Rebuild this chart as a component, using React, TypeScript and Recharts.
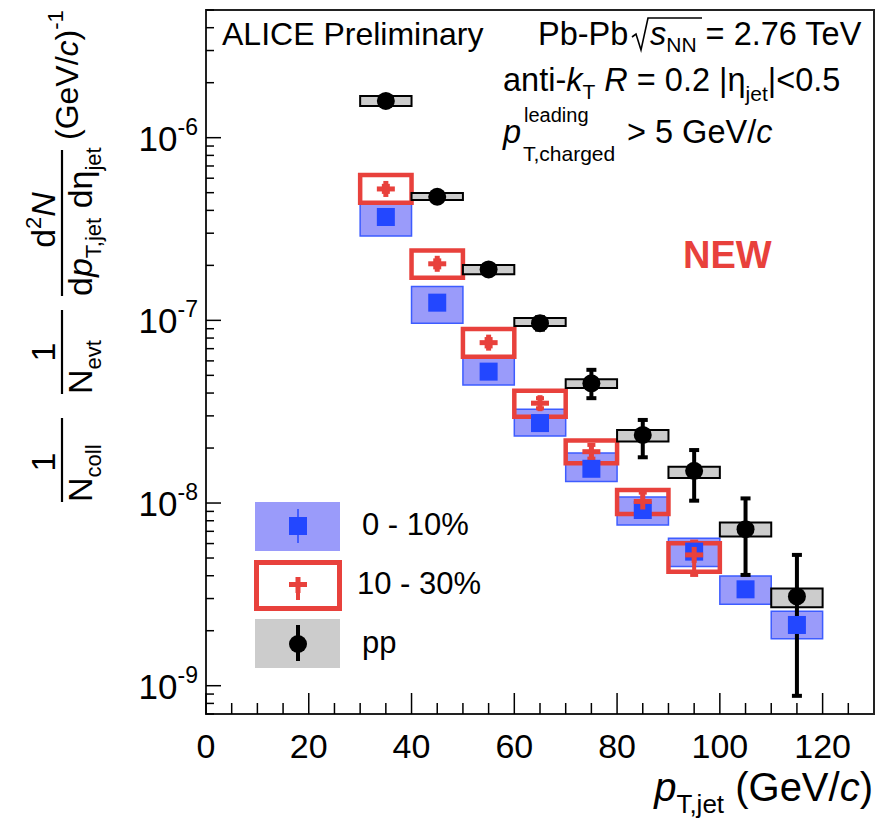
import React from 'react'
import { ComposedChart, Scatter, XAxis, YAxis, ErrorBar, ReferenceArea, Legend } from 'recharts'

const FONT = '"Liberation Sans", Arial, Helvetica, sans-serif'

// jet pT bin centres (GeV/c), each bin 10 GeV/c wide
const ptBins = [35, 45, 55, 65, 75, 85, 95, 105, 115]
const binHalf = 5

// 0-10% central Pb-Pb
const c010Value = [3.68e-7, 1.25e-7, 5.24e-8, 2.74e-8, 1.54e-8, 9.16e-9, 5.42e-9, 3.37e-9, 2.15e-9]
const c010StatLow = [3.58e-7, 1.21e-7, 5.08e-8, 2.65e-8, 1.49e-8, 8.85e-9, 5.22e-9, 3.24e-9, 2.06e-9]
const c010StatHigh = [3.78e-7, 1.29e-7, 5.40e-8, 2.83e-8, 1.59e-8, 9.47e-9, 5.62e-9, 3.50e-9, 2.24e-9]
const c010SysLow = [2.90e-7, 9.65e-8, 4.43e-8, 2.33e-8, 1.31e-8, 7.59e-9, 4.49e-9, 2.79e-9, 1.81e-9]
const c010SysHigh = [4.40e-7, 1.53e-7, 6.32e-8, 3.26e-8, 1.88e-8, 1.08e-8, 6.41e-9, 3.99e-9, 2.56e-9]

// 10-30% Pb-Pb (bins 35..95 only)
const c1030Value = [5.24e-7, 2.04e-7, 7.55e-8, 3.52e-8, 1.91e-8, 1.02e-8, 5.2e-9]
const c1030StatLow = [5.05e-7, 1.95e-7, 7.2e-8, 3.3e-8, 1.75e-8, 9.1e-9, 4.04e-9]
const c1030StatHigh = [5.45e-7, 2.13e-7, 7.9e-8, 3.75e-8, 2.08e-8, 1.14e-8, 6.15e-9]
const c1030SysLow = [4.40e-7, 1.71e-7, 6.32e-8, 2.97e-8, 1.65e-8, 8.72e-9, 4.20e-9]
const c1030SysHigh = [6.25e-7, 2.41e-7, 8.97e-8, 4.12e-8, 2.20e-8, 1.18e-8, 6.02e-9]

// pp reference
const ppValue = [1.59e-6, 4.75e-7, 1.90e-7, 9.65e-8, 4.52e-8, 2.36e-8, 1.50e-8, 7.19e-9, 3.08e-9]
const ppStatLow = [1.56e-6, 4.66e-7, 1.86e-7, 8.9e-8, 3.75e-8, 1.78e-8, 1.03e-8, 4.04e-9, 8.8e-10]
const ppStatHigh = [1.62e-6, 4.84e-7, 1.94e-7, 1.04e-7, 5.36e-8, 2.85e-8, 1.95e-8, 1.06e-8, 5.2e-9]
const ppSysLow = [1.49e-6, 4.56e-7, 1.79e-7, 9.3e-8, 4.26e-8, 2.17e-8, 1.37e-8, 6.55e-9, 2.69e-9]
const ppSysHigh = [1.69e-6, 4.98e-7, 2.01e-7, 1.03e-7, 4.76e-8, 2.51e-8, 1.58e-8, 7.82e-9, 3.41e-9]

const seriesNames = ['0 - 10%', '10 - 30%', 'pp']

const xDomain = [0, 130]
const yDomain = [7e-10, 5e-6]
const xMajor = [0, 20, 40, 60, 80, 100, 120]
const yDecades = [1e-10, 1e-9, 1e-8, 1e-7, 1e-6]

const xTicks: number[] = []
for (let v = 0; v < 130; v += 5) xTicks.push(v)
const yTicks: number[] = []
yDecades.forEach((d) => {
  for (let k = 1; k < 10; k++) {
    const v = d * k
    if (v >= yDomain[0] && v <= yDomain[1]) yTicks.push(v)
  }
})

const BLUE_FILL = '#9a9bfa'
const BLUE_LINE = '#3d5cff'
const BLUE_MARK = '#2347ff'
const RED = '#e8413c'
const GRAY = '#cccccc'

function toPoints(vals: number[], lo: number[], hi: number[]) {
  return vals.map((y, i) => ({ x: ptBins[i], y, err: [y - lo[i], hi[i] - y] }))
}
const c010Data = toPoints(c010Value, c010StatLow, c010StatHigh)
const c1030Data = toPoints(c1030Value, c1030StatLow, c1030StatHigh)
const ppData = toPoints(ppValue, ppStatLow, ppStatHigh)

function XTick({ x, y, payload }: any) {
  const v = payload.value
  const major = xMajor.includes(v)
  return (
    <g>
      <line x1={x} x2={x} y1={y} y2={y - (major ? 21 : 11)} stroke="#000" strokeWidth={1.5} />
      {major && (
        <text x={x} y={y + 44} textAnchor="middle" fontSize={34} fontFamily={FONT} fill="#000">{v}</text>
      )}
    </g>
  )
}

function YTick({ x, y, payload }: any) {
  const v = payload.value
  const lg = Math.log10(v)
  const e = Math.round(lg)
  const major = Math.abs(lg - e) < 1e-6
  return (
    <g>
      <line x1={x} x2={x + (major ? 15 : 8)} y1={y} y2={y} stroke="#000" strokeWidth={1.5} />
      {major && (
        <text x={x - 8} y={y + 13} textAnchor="end" fontSize={35} fontFamily={FONT} fill="#000">
          10<tspan dy={-16} fontSize={23}>{'-' + Math.abs(e)}</tspan>
        </text>
      )}
    </g>
  )
}

const BlueSquare = (p: any) => <rect x={p.cx - 9} y={p.cy - 9} width={18} height={18} fill={BLUE_MARK} />
const RedCross = (p: any) => (
  <g fill={RED}>
    <rect x={p.cx - 9} y={p.cy - 2.5} width={18} height={5} />
    <rect x={p.cx - 2.5} y={p.cy - 8} width={5} height={16} />
  </g>
)
const BlackDot = (p: any) => <circle cx={p.cx} cy={p.cy} r={9} fill="#000" />

function LegendBlock() {
  const rowTop = [501, 560, 619]
  return (
    <div style={{ position: 'absolute', left: 0, top: 0, width: 879, height: 825, fontFamily: FONT }}>
      {seriesNames.map((name, i) => (
        <div key={name}>
          <svg style={{ position: 'absolute', left: 254, top: rowTop[i] }} width={88} height={52}>
            {i === 0 && (
              <g>
                <rect x={1} y={1} width={85} height={49} fill={BLUE_FILL} />
                <line x1={44} x2={44} y1={8} y2={42} stroke={BLUE_MARK} strokeWidth={1.5} />
                <rect x={35} y={16} width={18} height={18} fill={BLUE_MARK} />
              </g>
            )}
            {i === 1 && (
              <g>
                <rect x={2.5} y={2.5} width={83} height={46} fill="none" stroke={RED} strokeWidth={5} />
                <line x1={44} x2={44} y1={18} y2={40} stroke={RED} strokeWidth={4} />
                <rect x={35} y={22} width={18} height={5} fill={RED} />
                <rect x={41.5} y={17} width={5} height={16} fill={RED} />
              </g>
            )}
            {i === 2 && (
              <g>
                <rect x={1} y={0} width={85} height={49} fill={GRAY} />
                <line x1={44} x2={44} y1={6} y2={42} stroke="#000" strokeWidth={4} />
                <circle cx={44} cy={25} r={9} fill="#000" />
              </g>
            )}
          </svg>
          <div
            style={{
              position: 'absolute',
              left: i === 1 ? 357 : 362,
              top: rowTop[i] + 6,
              fontSize: 31,
              lineHeight: '36px',
              color: '#000',
              whiteSpace: 'nowrap',
            }}
          >
            {name}
          </div>
        </div>
      ))}
    </div>
  )
}

function Annotations() {
  const sub = 21
  const ysub = 22
  return (
    <svg
      width={879}
      height={825}
      style={{ position: 'absolute', left: 0, top: 0, pointerEvents: 'none' }}
      fontFamily={FONT}
      fontSize={32.5}
      fill="#000"
    >
      <text x={222} y={45} fontSize={32}>ALICE Preliminary</text>
      <text x={538} y={45}>Pb-Pb</text>
      <path d="M632,37 L636,34 L641,50 L648,18 L702,18" fill="none" stroke="#000" strokeWidth={1.6} />
      <text x={650} y={45}>
        <tspan fontStyle="italic">s</tspan>
        <tspan fontSize={sub} dy={7}>NN</tspan>
        <tspan dy={-7}> = 2.76 TeV</tspan>
      </text>
      <text x={503} y={91}>
        anti-<tspan fontStyle="italic">k</tspan>
        <tspan fontSize={sub} dy={8}>T</tspan>
        <tspan dy={-8}> </tspan>
        <tspan fontStyle="italic">R</tspan>
        <tspan> = 0.2 |η</tspan>
        <tspan fontSize={sub} dy={10}>jet</tspan>
        <tspan dy={-10}>|&lt;0.5</tspan>
      </text>
      <text x={503} y={143} fontStyle="italic">p</text>
      <text x={524} y={122} fontSize={20}>leading</text>
      <text x={523} y={161} fontSize={sub}>T,charged</text>
      <text x={627} y={143}>
        &gt; 5 GeV/<tspan fontStyle="italic">c</tspan>
      </text>
      <text x={683} y={268} fontSize={38} fontWeight="bold" fill={RED}>NEW</text>

      {/* x title */}
      <text x={873} y={801} textAnchor="end" fontSize={40}>
        <tspan fontStyle="italic">p</tspan>
        <tspan fontSize={26} dy={12}>T,jet</tspan>
        <tspan dy={-12}> (GeV/</tspan>
        <tspan fontStyle="italic">c</tspan>
        <tspan>)</tspan>
      </text>

      {/* y title, rotated */}
      <g transform="rotate(-90)" fontSize={34}>
        <text x={-462} y={55} textAnchor="middle">1</text>
        <line x1={-502} x2={-418} y1={62} y2={62} stroke="#000" strokeWidth={2.2} />
        <text x={-502} y={92}>
          N<tspan fontSize={ysub} dy={9}>coll</tspan>
        </text>

        <text x={-352} y={55} textAnchor="middle">1</text>
        <line x1={-394} x2={-310} y1={62} y2={62} stroke="#000" strokeWidth={2.2} />
        <text x={-394} y={92}>
          N<tspan fontSize={ysub} dy={9}>evt</tspan>
        </text>

        <text x={-220} y={55} textAnchor="middle">
          d<tspan fontSize={ysub} dy={-14}>2</tspan>
          <tspan dy={14} fontStyle="italic">N</tspan>
        </text>
        <line x1={-296} x2={-150} y1={62} y2={62} stroke="#000" strokeWidth={2.2} />
        <text x={-296} y={92}>
          d<tspan fontStyle="italic">p</tspan>
          <tspan fontSize={ysub} dy={9}>T,jet</tspan>
          <tspan dy={-9}> dη</tspan>
          <tspan fontSize={ysub} dy={9}>jet</tspan>
        </text>

        <text x={-140} y={78} fontSize={32}>
          (GeV/<tspan fontStyle="italic">c</tspan>)<tspan fontSize={ysub} dy={-15}>-1</tspan>
        </text>
      </g>
    </svg>
  )
}

export default function App() {
  return (
    <div style={{ position: 'absolute', left: 0, top: 0, width: 879, height: 825, background: '#fff' }}>
      <ComposedChart width={879} height={825} margin={{ top: 10, right: 5, bottom: 110, left: 205 }}>
        <XAxis
          type="number"
          dataKey="x"
          domain={xDomain}
          ticks={xTicks}
          interval={0}
          height={1}
          axisLine={false}
          tickLine={false}
          tickSize={0}
          tickMargin={0}
          tick={<XTick />}
          allowDataOverflow
        />
        <YAxis
          type="number"
          scale="log"
          domain={yDomain}
          ticks={yTicks}
          interval={0}
          width={1}
          axisLine={false}
          tickLine={false}
          tickSize={0}
          tickMargin={0}
          tick={<YTick />}
          allowDataOverflow
        />
        {ptBins.map((pt, i) => (
          <ReferenceArea
            key={'b' + pt}
            x1={pt - binHalf}
            x2={pt + binHalf}
            y1={c010SysLow[i]}
            y2={c010SysHigh[i]}
            fill={BLUE_FILL}
            fillOpacity={1}
            stroke={BLUE_LINE}
            strokeWidth={1.5}
          />
        ))}
        {c1030Value.map((_, i) => (
          <ReferenceArea
            key={'r' + i}
            x1={ptBins[i] - binHalf}
            x2={ptBins[i] + binHalf}
            y1={c1030SysLow[i]}
            y2={c1030SysHigh[i]}
            fill="none"
            stroke={RED}
            strokeWidth={4.5}
          />
        ))}
        {ptBins.map((pt, i) => (
          <ReferenceArea
            key={'p' + pt}
            x1={pt - binHalf}
            x2={pt + binHalf}
            y1={ppSysLow[i]}
            y2={ppSysHigh[i]}
            fill={GRAY}
            fillOpacity={1}
            stroke="#000"
            strokeWidth={2}
          />
        ))}
        <Scatter name={seriesNames[0]} data={c010Data} dataKey="y" shape={BlueSquare} isAnimationActive={false}>
          <ErrorBar dataKey="err" direction="y" width={0} stroke={BLUE_MARK} strokeWidth={1.5} isAnimationActive={false} />
        </Scatter>
        <Scatter name={seriesNames[1]} data={c1030Data} dataKey="y" shape={RedCross} isAnimationActive={false}>
          <ErrorBar dataKey="err" direction="y" width={4} stroke={RED} strokeWidth={4} isAnimationActive={false} />
        </Scatter>
        <Scatter name={seriesNames[2]} data={ppData} dataKey="y" shape={BlackDot} isAnimationActive={false}>
          <ErrorBar dataKey="err" direction="y" width={5} stroke="#000" strokeWidth={4} isAnimationActive={false} />
        </Scatter>
        <ReferenceArea
          x1={xDomain[0]}
          x2={xDomain[1]}
          y1={yDomain[0]}
          y2={yDomain[1]}
          fill="none"
          stroke="#222"
          strokeWidth={2}
        />
        <Legend
          layout="horizontal"
          verticalAlign="middle"
          align="center"
          content={<LegendBlock />}
          wrapperStyle={{ left: 0, top: 0, width: 879, height: 825, pointerEvents: 'none' }}
        />
      </ComposedChart>
      <Annotations />
    </div>
  )
}
